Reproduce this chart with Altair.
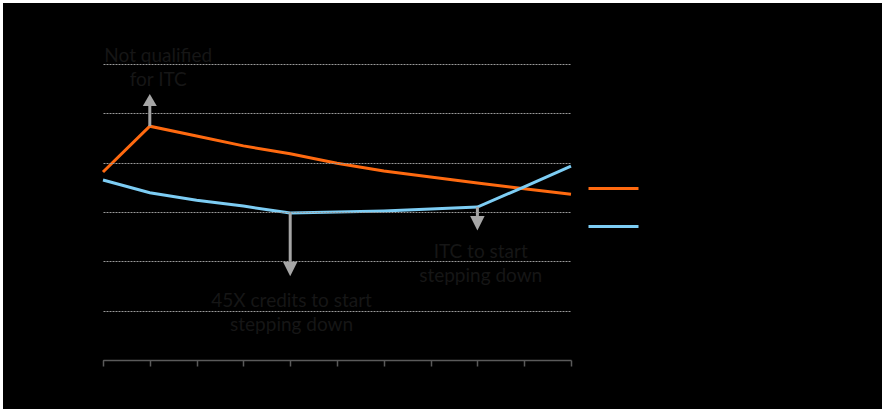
import altair as alt
import pandas as pd

years = [2022, 2023, 2024, 2025, 2026, 2027, 2028, 2029, 2030, 2031, 2032]
series_names = ["Imported modules", "Domestic modules"]
orange_vals = [38.1, 47.4, 45.4, 43.4, 41.8, 39.9, 38.3, 37.1, 35.9, 34.7, 33.6]
blue_vals = [36.5, 33.9, 32.4, 31.2, 29.8, 30.0, 30.2, 30.6, 31.0, 35.1, 39.3]
colors = ["#ff6a10", "#7dcdf4"]

# annotations
ann_years = [2023, 2026, 2030]
ann_from = [47.4, 29.8, 31.0]
ann_to = [51.5, 19.9, 29.2]
ann_dir = ["up", "down", "down"]
ann_text = [["Not qualified", "for ITC"],
            ["45X credits to start", "stepping down"],
            ["ITC to start", "stepping down"]]
ann_text_x = [2023.18, 2026.03, 2030.07]
ann_text_y = [61.6, 11.9, 21.9]

rows = []
for name, vals in zip(series_names, [orange_vals, blue_vals]):
    for y, v in zip(years, vals):
        rows.append({"year": y, "value": v, "series": name})
df = pd.DataFrame(rows)

arrows = pd.DataFrame({"year": ann_years, "y0": ann_from, "y1": ann_to, "dir": ann_dir})
texts = pd.DataFrame({"x": ann_text_x, "y": ann_text_y, "label": ann_text})

xscale = alt.Scale(domain=[2022, 2032], nice=False, zero=False)
yscale = alt.Scale(domain=[0, 60], nice=False)

bg = alt.Chart(pd.DataFrame({"a": [0]})).mark_rect(color="black").encode(
    x=alt.value(-100), x2=alt.value(800), y=alt.value(-61), y2=alt.value(360)
)

lines = alt.Chart(df).mark_line(strokeWidth=3).encode(
    x=alt.X("year:Q", scale=xscale,
            axis=alt.Axis(title=None, grid=False, values=years, format="d", zindex=1,
                          labelColor="black", domainColor="#5a5a5a", tickColor="#5a5a5a",
                          tickSize=6, domainWidth=1.5, tickWidth=1.5)),
    y=alt.Y("value:Q", scale=yscale,
            axis=alt.Axis(title=None, values=[0, 10, 20, 30, 40, 50, 60], domain=False, ticks=False,
                          labelColor="black", grid=True, gridColor="#9a9a9a", zindex=1,
                          gridDash=[2, 1], gridWidth=1)),
    color=alt.Color("series:N", sort=series_names,
                    scale=alt.Scale(domain=series_names, range=colors),
                    legend=alt.Legend(title=None, orient="none", legendX=484, legendY=98,
                                      symbolType="stroke", symbolSize=2500, symbolStrokeWidth=3,
                                      labelColor="black", rowPadding=4, padding=0,
                                      labelFontSize=14)),
)

shafts = alt.Chart(arrows).mark_rule(color="#a6a6a6", strokeWidth=3).encode(
    x=alt.X("year:Q", scale=xscale), y=alt.Y("y0:Q", scale=yscale), y2="y1:Q"
)

heads_up = alt.Chart(arrows).transform_filter(alt.datum.dir == "up").mark_point(
    shape="M-1,0L1,0L0,-1.7Z", size=196, filled=True, color="#a6a6a6", opacity=1
).encode(x=alt.X("year:Q", scale=xscale), y=alt.Y("y1:Q", scale=yscale))

heads_down = alt.Chart(arrows).transform_filter(alt.datum.dir == "down").mark_point(
    shape="M-1,0L1,0L0,2Z", size=210, filled=True, color="#a6a6a6", opacity=1
).encode(x=alt.X("year:Q", scale=xscale), y=alt.Y("y1:Q", scale=yscale))

labels = alt.Chart(texts).mark_text(
    font="Lato", fontSize=19, fill="#161616", align="center", baseline="middle", lineHeight=24
).encode(x=alt.X("x:Q", scale=xscale), y=alt.Y("y:Q", scale=yscale), text="label")

chart = alt.layer(bg, lines, shafts, heads_up, heads_down, labels).properties(
    width=468, height=296,
    padding={"left": 103, "top": 64, "right": 311, "bottom": 49},
    autosize=alt.AutoSizeParams(type="none"),
    background="white",
).configure_view(stroke=None).configure_axis(labelFont="Lato").configure_legend(labelFont="Lato")

chart.save("out.html", embed_options={"renderer": "svg", "actions": False})
